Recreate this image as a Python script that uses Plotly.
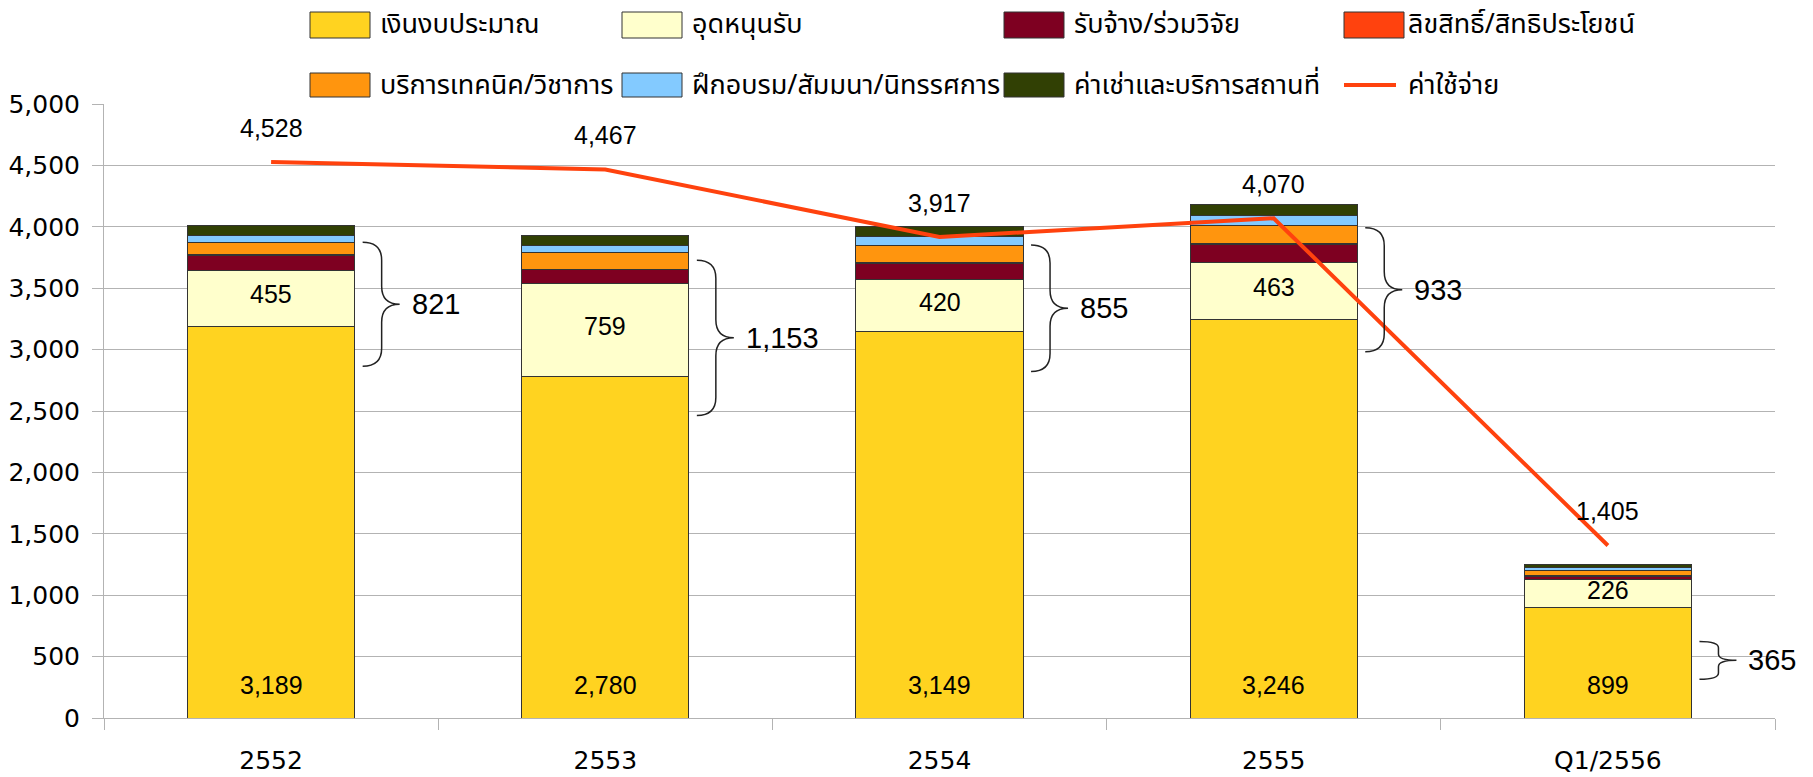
import plotly.graph_objects as go

# ---------------- data ----------------
categories = ["2552", "2553", "2554", "2555", "Q1/2556"]

budget = [3189, 2780, 3149, 3246, 899]          # เงินงบประมาณ
subsidy = [455, 759, 420, 463, 226]              # อุดหนุนรับ
research = [124, 113, 130, 143, 28]              # รับจ้าง/ร่วมวิจัย
license_ = [9, 3, 14, 14, 6]                     # ลิขสิทธิ์/สิทธิประโยชน์
technical = [94, 134, 131, 148, 46]              # บริการเทคนิค/วิชาการ
training = [59, 59, 81, 76, 17]                  # ฝึกอบรม/สัมมนา/นิทรรศการ
rental = [80, 85, 79, 89, 25]                    # ค่าเช่าและบริการสถานที่
expense = [4528, 4467, 3917, 4070, 1405]         # ค่าใช้จ่าย
other_income = [821, 1153, 855, 933, 365]        # brace labels

series_names = ["เงินงบประมาณ", "อุดหนุนรับ", "รับจ้าง/ร่วมวิจัย", "ลิขสิทธิ์/สิทธิประโยชน์",
                "บริการเทคนิค/วิชาการ", "ฝึกอบรม/สัมมนา/นิทรรศการ", "ค่าเช่าและบริการสถานที่"]
line_name = "ค่าใช้จ่าย"

# ---------------- style ----------------
colors = ["#ffd320", "#ffffcc", "#7e0021", "#ff420e", "#ff950e", "#83caff", "#314004"]
line_color = "#ff420e"
THAI = "Noto Sans Thai, Garuda, Loma, Tlwg Typo, Kinnari, Norasi, DejaVu Sans, sans-serif"
TICKF = "DejaVu Sans, Verdana, sans-serif"
NUMF = "Liberation Sans, Arial, sans-serif"

# brace vertical spans (layout decoration, in axis units)
brace_top = [3875, 3728, 3851, 3992, 623]
brace_bot = [2865, 2463, 2822, 2982, 316]

W, H = 1813, 777
ML, MR, MT, MB = 104, 38, 104, 59
PW = W - ML - MR
PH = H - MT - MB
YMAX = 5000
px_per_unit = PH / YMAX

fig = go.Figure()
all_series = [budget, subsidy, research, license_, technical, training, rental]
for name, vals, col in zip(series_names, all_series, colors):
    fig.add_trace(go.Bar(
        x=categories, y=vals, name=name,
        marker=dict(color=col, line=dict(color="#333333", width=1)),
        showlegend=False, hoverinfo="x+y+name",
    ))

fig.add_trace(go.Scatter(
    x=categories, y=expense, name=line_name, mode="lines",
    line=dict(color=line_color, width=4), showlegend=False,
))

annotations = []
shapes = []
n = len(categories)

for i, c in enumerate(categories):
    # budget label near base
    annotations.append(dict(x=i, y=0, xref="x", yref="y", text=f"{budget[i]:,}",
                            showarrow=False, yanchor="middle", yshift=33,
                            font=dict(family=NUMF, size=25, color="black")))
    # subsidy label centred in segment
    annotations.append(dict(x=i, y=budget[i] + subsidy[i] / 2, xref="x", yref="y",
                            text=f"{subsidy[i]:,}", showarrow=False, yanchor="middle", yshift=4,
                            font=dict(family=NUMF, size=25, color="black")))
    # expense label above line point
    annotations.append(dict(x=i, y=expense[i], xref="x", yref="y", text=f"{expense[i]:,}",
                            showarrow=False, yanchor="middle", yshift=34,
                            font=dict(family=NUMF, size=25, color="black")))

    # brace
    bar_right = (i + 0.75) / n
    xl = bar_right + 8 / PW
    xv = bar_right + 27 / PW
    xt = bar_right + 45 / PW
    top, bot = brace_top[i], brace_bot[i]
    mid = (top + bot) / 2
    hpx = (top - bot) * px_per_unit
    r = min(18, hpx / 6) / px_per_unit
    path = (f"M {xl},{top} Q {xv},{top} {xv},{top - r} L {xv},{mid + r} "
            f"Q {xv},{mid} {xt},{mid} Q {xv},{mid} {xv},{mid - r} L {xv},{bot + r} "
            f"Q {xv},{bot} {xl},{bot}")
    shapes.append(dict(type="path", xref="paper", yref="y", path=path,
                       line=dict(color="#222222", width=1.5)))
    annotations.append(dict(x=bar_right + 55 / PW, y=mid, xref="paper", yref="y",
                            text=f"{other_income[i]:,}", showarrow=False,
                            xanchor="left", yanchor="middle",
                            font=dict(family=NUMF, size=29, color="black")))

# ---------------- custom legend ----------------
box_px = [310, 622, 1004, 1344]
text_px = [378, 690, 1072, 1406]
row_px = [(12, 38), (73, 97)]
legend_items = [(nm, col, "box") for nm, col in zip(series_names, colors)] + [(line_name, line_color, "line")]


def px_x(p):
    return (p - ML) / PW


def px_y(p):
    return (H - MB - p) / PH


for k, (nm, col, kind) in enumerate(legend_items):
    r_i, c_i = divmod(k, 4)
    x0 = box_px[c_i]
    y0, y1 = row_px[r_i]
    if kind == "box":
        shapes.append(dict(type="rect", xref="paper", yref="paper",
                           x0=px_x(x0), x1=px_x(x0 + 60), y0=px_y(y1), y1=px_y(y0),
                           fillcolor=col, line=dict(color="#333333", width=1)))
    else:
        yc = (y0 + y1) / 2
        shapes.append(dict(type="line", xref="paper", yref="paper",
                           x0=px_x(x0), x1=px_x(x0 + 52), y0=px_y(yc), y1=px_y(yc),
                           line=dict(color=col, width=4)))
    annotations.append(dict(x=px_x(text_px[c_i]), y=px_y((y0 + y1) / 2), xref="paper", yref="paper",
                            text=nm, showarrow=False, xanchor="left", yanchor="middle",
                            font=dict(family=THAI, size=27, color="black")))

fig.update_layout(
    width=W, height=H,
    margin=dict(l=ML, r=MR, t=MT, b=MB, autoexpand=False),
    barmode="stack", bargap=0.5,
    plot_bgcolor="white", paper_bgcolor="white",
    showlegend=False,
    annotations=annotations, shapes=shapes,
    xaxis=dict(type="category", range=[-0.5, n - 0.5], autorange=False, automargin=False,
               categoryorder="array", categoryarray=categories,
               tickson="boundaries", ticks="outside", ticklen=11,
               tickcolor="#b3b3b3", showline=True, linecolor="#b3b3b3", showgrid=False,
               ticklabelstandoff=20, tickangle=0,
               tickfont=dict(family=TICKF, size=25, color="black")),
    yaxis=dict(range=[0, YMAX], dtick=500, tickformat=",", ticks="outside", ticklen=11,
               automargin=False,
               tickcolor="#b3b3b3", showline=True, linecolor="#b3b3b3",
               gridcolor="#b3b3b3", gridwidth=1, zeroline=False,
               ticklabelstandoff=7,
               tickfont=dict(family=TICKF, size=25, color="black")),
)

fig.write_html("out.html", config={"displayModeBar": False},
               post_script="document.body.style.margin='0';")
